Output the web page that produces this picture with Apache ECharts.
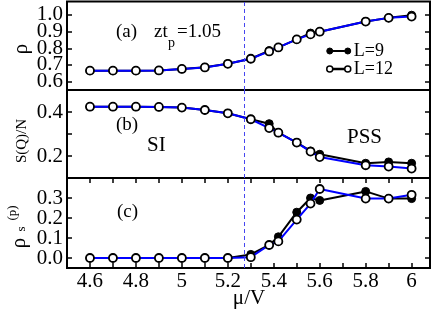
<!DOCTYPE html>
<html>
<head>
<meta charset="utf-8">
<script src="https://cdn.jsdelivr.net/npm/echarts@6/dist/echarts.min.js"></script>
<style>html,body{margin:0;padding:0;background:#fff;}#c{width:436px;height:312px;}</style>
</head>
<body>
<div id="c"></div>
<script>
var muV = [4.6, 4.7, 4.8, 4.9, 5.0, 5.1, 5.2, 5.3, 5.38, 5.42, 5.5, 5.56, 5.6, 5.8, 5.9, 6.0];
var rhoL9  = [0.666, 0.666, 0.666, 0.667, 0.676, 0.686, 0.707, 0.737, 0.786, 0.805, 0.853, 0.891, 0.899, 0.960, 0.982, 0.998];
var rhoL12 = [0.666, 0.666, 0.666, 0.667, 0.676, 0.685, 0.707, 0.737, 0.781, 0.805, 0.853, 0.883, 0.899, 0.960, 0.982, 0.990];
var sqL9  = [0.424, 0.424, 0.424, 0.423, 0.420, 0.409, 0.394, 0.367, 0.347, 0.306, 0.261, 0.223, 0.208, 0.167, 0.173, 0.167];
var sqL12 = [0.424, 0.424, 0.424, 0.423, 0.420, 0.409, 0.394, 0.367, 0.327, 0.306, 0.261, 0.220, 0.195, 0.158, 0.152, 0.143];
var rsL9  = [0, 0, 0, 0, 0, 0, 0, 0.018, 0.065, 0.106, 0.229, 0.300, 0.288, 0.333, 0.297, 0.297];
var rsL12 = [0, 0, 0, 0, 0, 0, 0, 0.004, 0.065, 0.083, 0.192, 0.272, 0.345, 0.297, 0.297, 0.316];
var xTickLabels = [4.6, 4.8, 5, 5.2, 5.4, 5.6, 5.8, 6];
var xTicks = [4.6, 4.7, 4.8, 4.9, 5.0, 5.1, 5.2, 5.3, 5.4, 5.5, 5.6, 5.7, 5.8, 5.9, 6.0];
var rhoTicks = [0.6, 0.7, 0.8, 0.9, 1.0];
var rhoLabelsEven = [0.6, 0.8, 1.0];
var rhoLabelsOdd = [0.7, 0.9];
var sqTicks = [0.2, 0.3, 0.4];
var sqTickLabels = [0.2, 0.4];
var rsTicks = [0, 0.1, 0.2, 0.3];
var rsLabelsEven = [0, 0.2];
var rsLabelsOdd = [0.1, 0.3];
var transitionMu = 5.27;

function pairs(xs, ys) { return xs.map(function (x, i) { return [x, ys[i]]; }); }

var FONT = 'Liberation Serif';
function tickDef(vals, inside) {
  return { show: true, inside: inside !== false, length: 5, customValues: vals, lineStyle: { color: '#000', width: 1.5 } };
}
function yAxisDef(grid, min, max, ticks, labels, pos) {
  return {
    type: 'value', gridIndex: grid, min: min, max: max, position: pos,
    axisLine: { show: false, onZero: false }, splitLine: { show: false },
    axisTick: ticks ? tickDef(ticks) : { show: false },
    axisLabel: labels ? { show: true, customValues: labels, margin: 4, fontFamily: FONT, fontSize: 21,
      color: '#000', hideOverlap: false, showMinLabel: true, showMaxLabel: true,
      formatter: function (v) { return (+v).toFixed(1); } } : { show: false }
  };
}
function xAxisDef(grid, ticks, inside, labels) {
  return {
    type: 'value', gridIndex: grid, min: 4.5, max: 6.08, position: 'bottom',
    axisLine: { show: false, onZero: false }, splitLine: { show: false },
    axisTick: ticks ? tickDef(ticks, inside) : { show: false },
    axisLabel: labels ? { show: true, customValues: labels, margin: 3, fontFamily: FONT, fontSize: 21, color: '#000',
      hideOverlap: false, showMinLabel: true, showMaxLabel: true,
      formatter: function (v) { v = Math.round(v * 10) / 10; return (v % 1 === 0) ? String(v) : v.toFixed(1); } } : { show: false }
  };
}
var markL = {
  silent: true, symbol: 'none', label: { show: false },
  lineStyle: { color: '#4646f0', type: [4, 3], width: 1 },
  data: [{ xAxis: transitionMu }]
};
function s9(xi, yi, d) {
  return { name: 'L=9', type: 'line', xAxisIndex: xi, yAxisIndex: yi, data: d, symbol: 'circle', symbolSize: 8,
    lineStyle: { color: '#000', width: 2 }, itemStyle: { color: '#000', borderColor: '#000', borderWidth: 1 }, z: 3,
    markLine: markL, animation: false };
}
function s12(xi, yi, d) {
  return { name: 'L=12', type: 'line', xAxisIndex: xi, yAxisIndex: yi, data: d, symbol: 'circle', symbolSize: 8,
    lineStyle: { color: '#0000ff', width: 2 }, itemStyle: { color: '#fff', borderColor: '#000', borderWidth: 1.8 }, z: 4, animation: false };
}
function txt(t, x, y, size, rot, align) {
  return { type: 'text', x: x, y: y, rotation: rot || 0,
    style: { text: t, fill: '#000', font: size + 'px "' + FONT + '"', textAlign: align || 'left', textVerticalAlign: 'middle' } };
}
var legendIcon = 'path://M0,3a3,3 0 1,0 6,0a3,3 0 1,0 -6,0M18,3a3,3 0 1,0 6,0a3,3 0 1,0 -6,0M6,2.5h12v1h-12z';

var chart = echarts.init(document.getElementById('c'));
chart.setOption({
  animation: false,
  backgroundColor: '#fff',
  grid: [
    { left: 67, right: 6, top: 1.5, height: 88.5, show: true, borderColor: '#000', borderWidth: 2, backgroundColor: 'transparent' },
    { left: 67, right: 6, top: 90, height: 88, show: true, borderColor: '#000', borderWidth: 2, backgroundColor: 'transparent' },
    { left: 67, right: 6, top: 178, height: 90, show: true, borderColor: '#000', borderWidth: 2, backgroundColor: 'transparent' }
  ],
  xAxis: [
    xAxisDef(0, null, true, null),
    xAxisDef(1, xTicks, false, null),
    xAxisDef(2, xTicks, true, xTickLabels)
  ],
  yAxis: [
    yAxisDef(0, 0.55, 1.08, rhoTicks, rhoLabelsEven, 'left'),
    yAxisDef(0, 0.55, 1.08, rhoTicks, null, 'right'),
    yAxisDef(0, 0.55, 1.08, null, rhoLabelsOdd, 'left'),
    yAxisDef(1, 0.1, 0.5, sqTicks, sqTickLabels, 'left'),
    yAxisDef(1, 0.1, 0.5, sqTicks, null, 'right'),
    yAxisDef(2, -0.05, 0.4, rsTicks, rsLabelsEven, 'left'),
    yAxisDef(2, -0.05, 0.4, rsTicks, null, 'right'),
    yAxisDef(2, -0.05, 0.4, null, rsLabelsOdd, 'left')
  ],
  legend: {
    orient: 'vertical', left: 326, top: 42, itemGap: 0, itemWidth: 24, itemHeight: 6,
    data: [
      { name: 'L=9', icon: legendIcon, itemStyle: { color: '#000', borderColor: '#000', borderWidth: 1 } },
      { name: 'L=12', icon: legendIcon, itemStyle: { color: '#fff', borderColor: '#000', borderWidth: 1.5 } }
    ],
    textStyle: { fontFamily: FONT, fontSize: 18, color: '#000', lineHeight: 13, padding: [0, 0, 0, -2] },
    padding: 0
  },
  series: [
    s9(0, 0, pairs(muV, rhoL9)), s12(0, 0, pairs(muV, rhoL12)),
    s9(1, 3, pairs(muV, sqL9)), s12(1, 3, pairs(muV, sqL12)),
    s9(2, 5, pairs(muV, rsL9)), s12(2, 5, pairs(muV, rsL12))
  ],
  graphic: [
    txt('(a)', 116, 32, 19),
    txt('zt', 154, 32, 19),
    txt('p', 168, 43, 14),
    txt('=1.05', 177, 32, 19),
    txt('(b)', 116, 125, 19),
    txt('SI', 147, 145, 21),
    txt('PSS', 347, 137, 21),
    txt('(c)', 117, 212, 19),
    txt('\u03bc/V', 249, 298, 21, 0, 'center'),
    txt('\u03c1', 21, 49, 21, Math.PI / 2, 'center'),
    txt('S(Q)/N', 22, 141, 15, Math.PI / 2, 'center'),
    txt('\u03c1', 19, 243, 21, Math.PI / 2, 'center'),
    txt('s', 22, 229, 13, Math.PI / 2, 'center'),
    txt('(p)', 13, 213, 13, Math.PI / 2, 'center')
  ]
});
</script>
</body>
</html>
